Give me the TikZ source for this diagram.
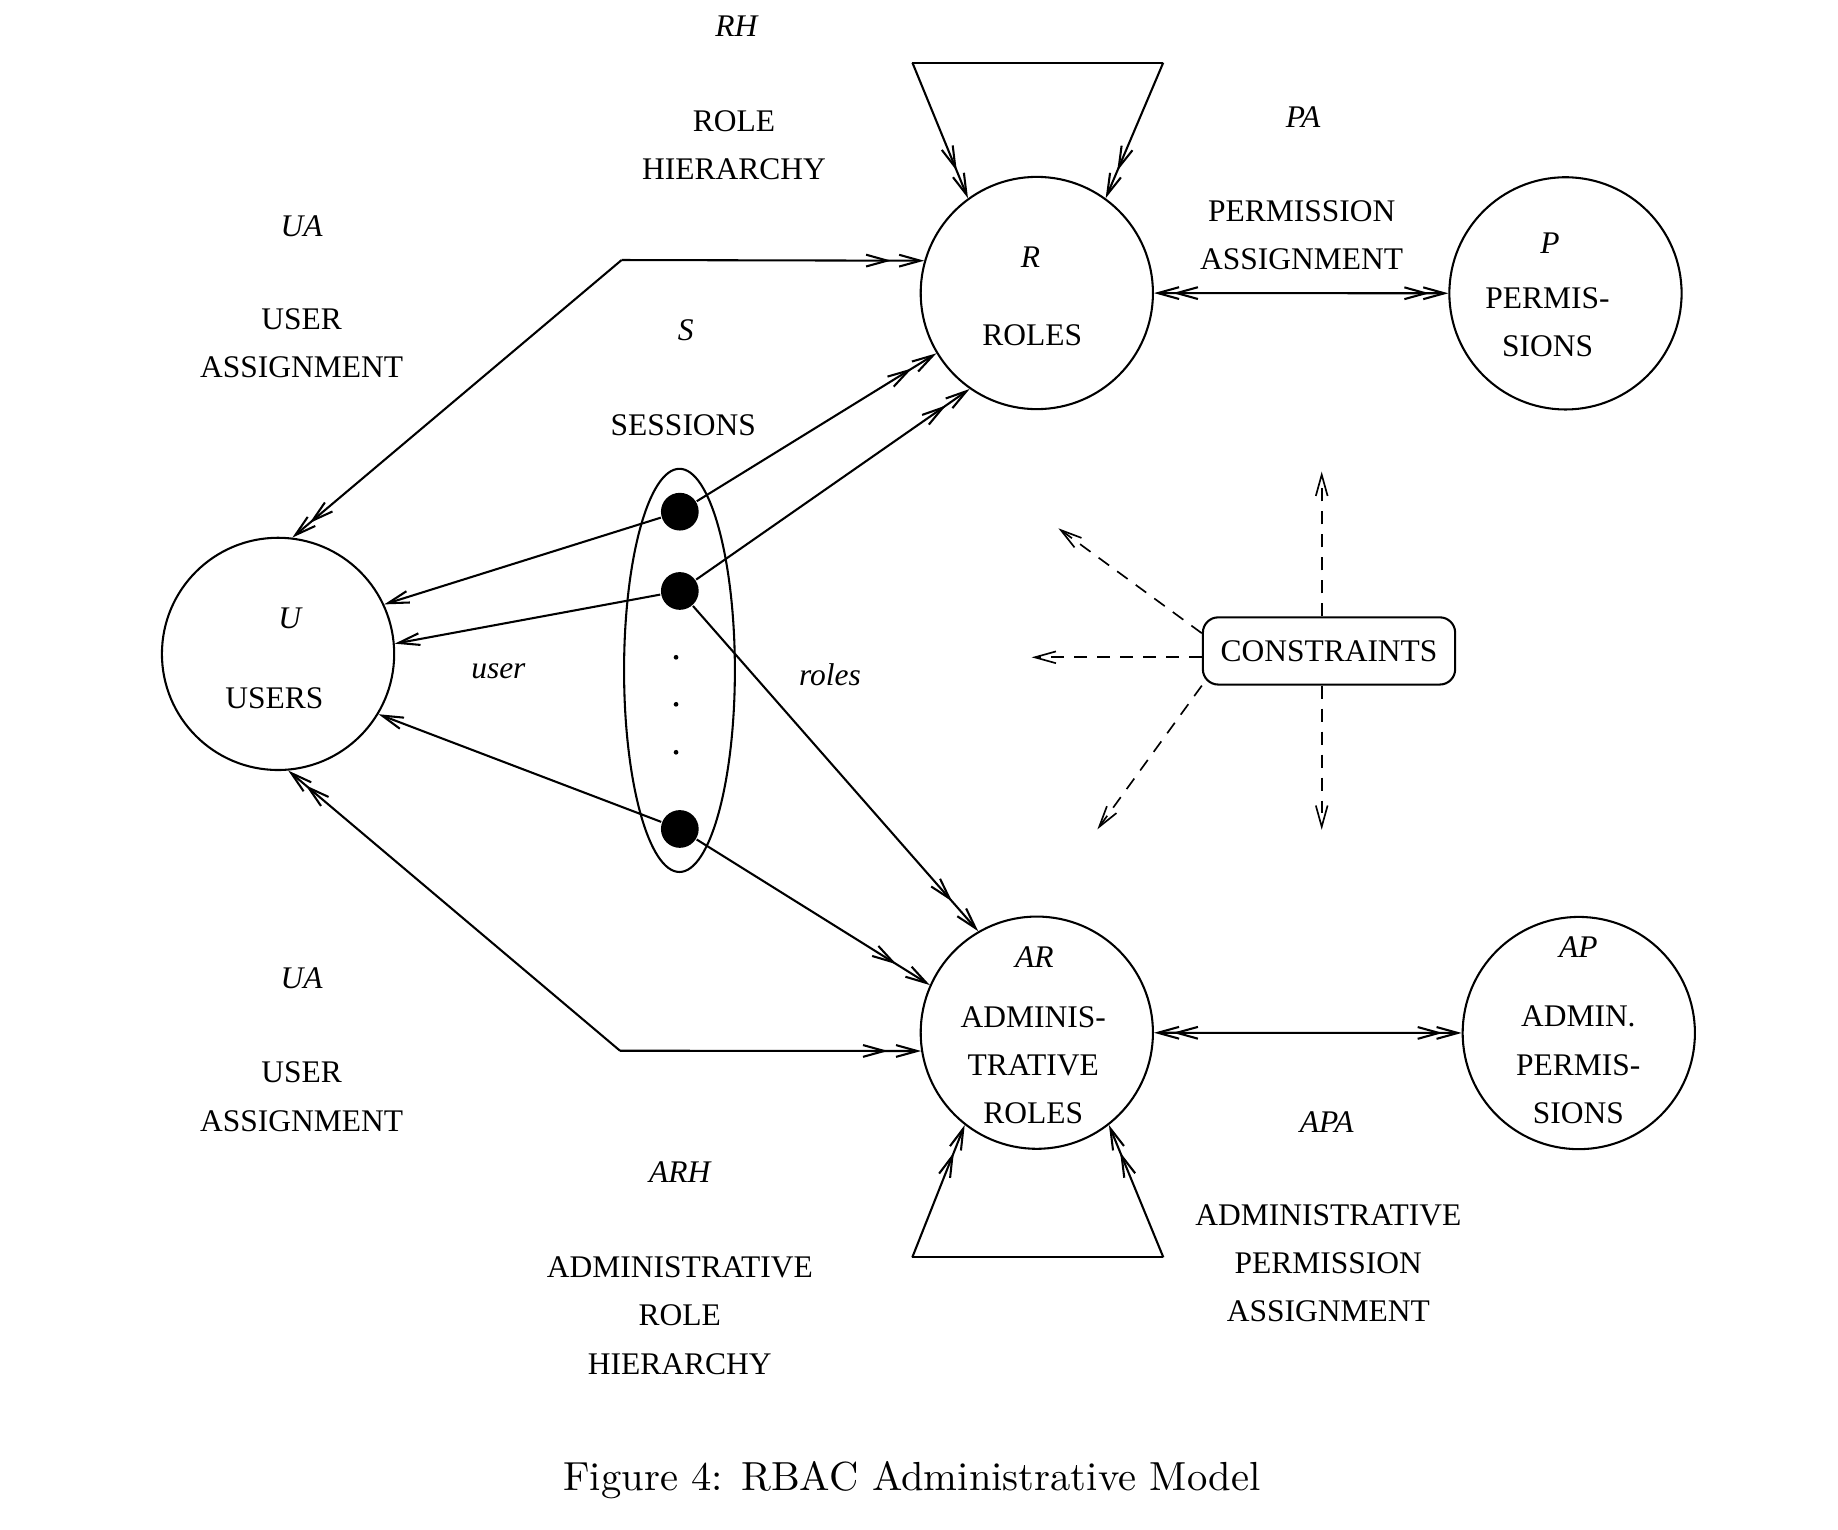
\documentclass[tikz,border=0pt]{standalone}
\usepackage{fontspec}
\newfontfamily\figfont{Liberation Serif}
\usepackage{tikz}
\usetikzlibrary{arrows.meta,decorations.markings}

\begin{document}
\begin{tikzpicture}[x=0.01cm, y=-0.01cm,
    >={Straight Barb[length=1.8mm,width=1mm]},
    line width=0.5pt,
every node/.style = {inner sep=0pt},
    set/.style = {draw, circle, minimum size=1.97cm},
    txt/.style = {font=\figfont\fontsize{7.6}{11.64}\selectfont, align=center},
    lbl/.style = {font=\figfont\itshape\fontsize{7.6}{11.64}\selectfont},
    sdot/.style = {circle, fill, minimum size=3.2mm},
    dbl/.style = {->, postaction={decorate, decoration={markings,
        mark=at position -#1 with {\arrow{>}}}}},
    dbl/.default = 2.5mm,
    both/.style = {<->, postaction={decorate, decoration={markings,
        mark=at position 1.6mm with {\arrowreversed{>}},
        mark=at position -1.6mm with {\arrow{>}}}}},
    cons/.style = {->, line width=0.4pt, dash pattern=on 1.1mm off 0.85mm}]
\useasboundingbox (0,0) rectangle (1560,1298.6);

% sets
\node[set] (R)  at (880,248.7) {};
\node[set] (P)  at (1328.7,249) {};
\node[set] (U)  at (236,555) {};
\node[set] (AR) at (880,876.5) {};
\node[set] (AP) at (1340,876.8) {};

% sessions
\draw (576.7,569) ellipse [x radius=0.47cm, y radius=1.71cm];
\node[sdot] (s1) at (577,434.3) {};
\node[sdot] (s2) at (577,501.6) {};
\node[sdot] (s3) at (577,703.6) {};
\foreach \y in {557.9,597.8,638.5}
  \fill (573.8,\y) circle (0.2mm);

\coordinate (ua1) at (527.6,220.7);
\coordinate (ua2) at (526.2,891.8);
\coordinate (rh1) at (774.4,53.2);
\coordinate (rh2) at (987.3,53.2);
\coordinate (arh1) at (774.3,1067.2);
\coordinate (arh2) at (987.4,1067.2);

\draw[dbl=2.8mm] (ua1) -- (R.164);
\draw[dbl=1.8mm] (ua1) -- (U.83);
\draw[dbl=2.8mm] (ua2) -- (AR.189);
\draw[dbl=1.8mm] (ua2) -- (U.-85);

\draw (rh1) -- (rh2);
\draw[dbl] (rh1) -- (R.126);
\draw[dbl] (rh2) -- (R.54);
\draw (arh1) -- (arh2);
\draw[dbl] (arh1) -- (AR.232);
\draw[dbl] (arh2) -- (AR.308);

\draw[both] (R) -- (P);
\draw[both] (AR) -- (AP);

\draw[->] (s1) -- (U.25);
\draw[->] (s2) -- (U.5);
\draw[->] (s3) -- (U.-31);
\draw[dbl=2.4mm] (s1) -- (R.211);
\draw[dbl=2.4mm] (s2) -- (R.235);
\draw[dbl=3.3mm] (s2) -- (AR.120);
\draw[dbl=3.3mm] (s3) -- (AR.156);

% constraints
\node[draw, rounded corners=1.3mm, minimum width=2.14cm, minimum height=0.57cm, txt]
  (con) at (1128,552.5) {CONSTRAINTS};
\coordinate (c1) at (1121.8,400.3);
\coordinate (c2) at (1121.8,704.3);
\coordinate (c3) at (875.6,557.9);
\coordinate (c4) at (898.3,448.4);
\coordinate (c5) at (931.4,703.9);
\draw[cons] (con.north -| c1) -- (c1);
\draw[cons] (con.south -| c2) -- (c2);
\draw[cons] (con.west |- c3) -- (c3);
\draw[cons] ([yshift=1.5mm]con.west) -- (c4);
\draw[cons] (con.south west) -- (c5);

% labels
\node[lbl] (lRH) at (625,22) {RH};
\node[txt] (tRH) at (623,123.4) {ROLE\\HIERARCHY};
\node[lbl] (lPA) at (1106,99) {PA};
\node[txt] (tPA) at (1104.8,199.5) {PERMISSION\\ASSIGNMENT};
\node[lbl] (lUA1) at (256,192.4) {UA};
\node[txt] (tUA1) at (256,291.4) {USER\\ASSIGNMENT};
\node[lbl] (lR) at (874.7,217.9) {R};
\node[txt] (tR) at (876.2,284.3) {ROLES};
\node[lbl] (lP) at (1315.6,206.5) {P};
\node[txt] (tP) at (1313.5,273.8) {PERMIS-\\SIONS};
\node[lbl] (lS) at (582,280.6) {S};
\node[txt] (tS) at (580,361) {SESSIONS};
\node[lbl] (lU) at (245.9,524.8) {U};
\node[txt] (tU) at (232.9,592.7) {USERS};
\node[lbl] (luser) at (423,570) {user};
\node[lbl] (lroles) at (704.5,573) {roles};
\node[lbl] (lUA2) at (256,830.4) {UA};
\node[txt] (tUA2) at (256,930.8) {USER\\ASSIGNMENT};
\node[lbl] (lAR) at (877.9,812) {AR};
\node[txt] (tAR) at (877,903.9) {ADMINIS-\\TRATIVE\\ROLES};
\node[lbl] (lAP) at (1339.6,803.5) {AP};
\node[txt] (tAP) at (1339.6,903.9) {ADMIN.\\PERMIS-\\SIONS};
\node[lbl] (lAPA) at (1126,952) {APA};
\node[txt] (tAPA) at (1127.4,1072.3) {ADMINISTRATIVE\\PERMISSION\\ASSIGNMENT};
\node[lbl] (lARH) at (577,995) {ARH};
\node[txt] (tARH) at (577,1116.6) {ADMINISTRATIVE\\ROLE\\HIERARCHY};

\node (cap) at (774,1256) {\fontsize{9.8}{12}\selectfont Figure 4: RBAC Administrative Model};
\end{tikzpicture}
\end{document}
